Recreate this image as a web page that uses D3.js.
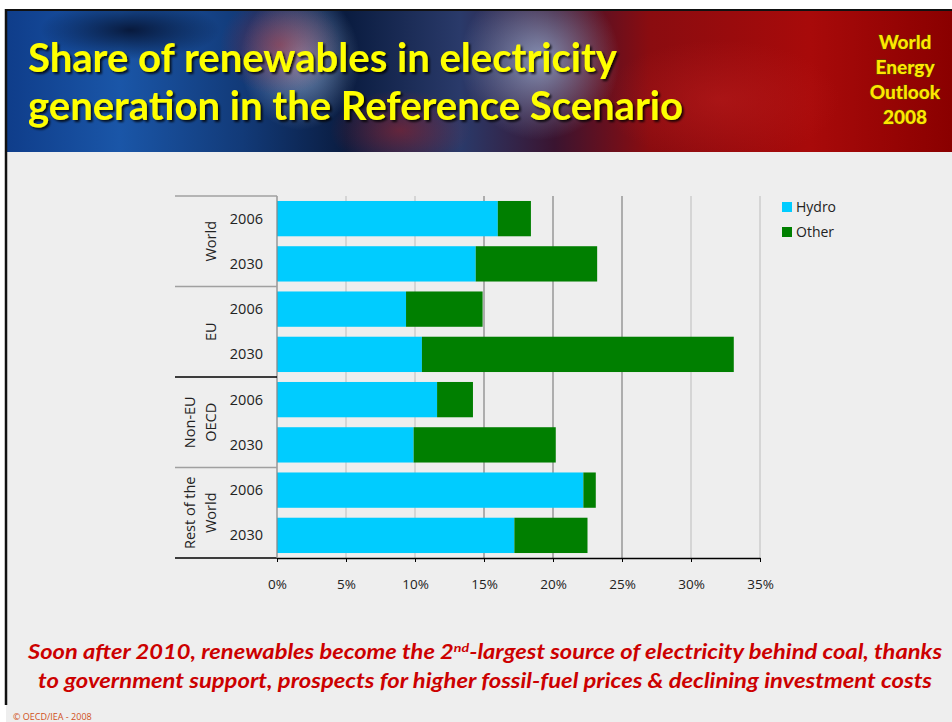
<!DOCTYPE html>
<html><head><meta charset="utf-8">
<script src="https://cdn.jsdelivr.net/npm/d3@7/dist/d3.min.js"></script>
<style>
html,body{margin:0;padding:0;background:#fff;}
svg{display:block;}
</style></head>
<body>
<script>
// ---- data ----
const regions = ["World", "EU", "Non-EU OECD", "Rest of the World"];
const regionLines = [["World"], ["EU"], ["Non-EU", "OECD"], ["Rest of the", "World"]];
const years = ["2006", "2030"];
const hydro = [16.0, 14.4, 9.35, 10.5, 11.6, 9.9, 22.2, 17.2];
const other = [2.4, 8.8, 5.55, 22.6, 2.6, 10.3, 0.9, 5.3];
const seriesNames = ["Hydro", "Other"];
const xTicks = [0, 5, 10, 15, 20, 25, 30, 35];
const titleLines = ["Share of renewables in electricity", "generation in the Reference Scenario"];
const badgeLines = ["World", "Energy", "Outlook", "2008"];

const W = 952, H = 722;
const svg = d3.select("body").append("svg").attr("width", W).attr("height", H);
const defs = svg.append("defs");

// page
svg.append("rect").attr("x", 0).attr("y", 0).attr("width", W).attr("height", H).attr("fill", "#ffffff");
svg.append("rect").attr("x", 6).attr("y", 10).attr("width", W - 6).attr("height", H - 10).attr("fill", "#eeeeee");

// header background
const g1 = defs.append("linearGradient").attr("id", "hdr").attr("x1", 0).attr("x2", 1).attr("y1", 0).attr("y2", 0);
[[0, "#0f3d8a"], [0.12, "#1a56a8"], [0.25, "#123a78"], [0.36, "#0a1c40"], [0.48, "#2a3a6a"], [0.58, "#3a1430"], [0.68, "#8a0c10"], [0.85, "#a80a0a"], [1, "#8a0000"]]
  .forEach(([o, c]) => g1.append("stop").attr("offset", o).attr("stop-color", c));
const g2 = defs.append("radialGradient").attr("id", "glow1");
g2.append("stop").attr("offset", 0).attr("stop-color", "#a8c4e8").attr("stop-opacity", 0.7);
g2.append("stop").attr("offset", 1).attr("stop-color", "#a8c4e8").attr("stop-opacity", 0);
const g3 = defs.append("radialGradient").attr("id", "glow2");
g3.append("stop").attr("offset", 0).attr("stop-color", "#c02020").attr("stop-opacity", 0.45);
g3.append("stop").attr("offset", 1).attr("stop-color", "#c02020").attr("stop-opacity", 0);
const g4 = defs.append("radialGradient").attr("id", "glow3");
g4.append("stop").attr("offset", 0).attr("stop-color", "#000010").attr("stop-opacity", 0.7);
g4.append("stop").attr("offset", 1).attr("stop-color", "#000010").attr("stop-opacity", 0);
defs.append("clipPath").attr("id", "hclip").append("rect").attr("x", 6).attr("y", 10).attr("width", W - 6).attr("height", 142);

const hg = svg.append("g").attr("clip-path", "url(#hclip)");
hg.append("rect").attr("x", 6).attr("y", 10).attr("width", W - 6).attr("height", 142).attr("fill", "url(#hdr)");
hg.append("ellipse").attr("cx", 540).attr("cy", 60).attr("rx", 80).attr("ry", 80).attr("fill", "url(#glow1)");
hg.append("ellipse").attr("cx", 300).attr("cy", 60).attr("rx", 60).attr("ry", 70).attr("fill", "url(#glow1)");
hg.append("ellipse").attr("cx", 280).attr("cy", 45).attr("rx", 60).attr("ry", 50).attr("fill", "url(#glow2)");
hg.append("ellipse").attr("cx", 400).attr("cy", 130).attr("rx", 70).attr("ry", 40).attr("fill", "url(#glow2)");
hg.append("ellipse").attr("cx", 130).attr("cy", 30).attr("rx", 90).attr("ry", 30).attr("fill", "url(#glow3)");
hg.append("ellipse").attr("cx", 720).attr("cy", 100).attr("rx", 120).attr("ry", 60).attr("fill", "url(#glow2)");

// header border
svg.append("line").attr("x1", 6).attr("x2", W).attr("y1", 10).attr("y2", 10).attr("stroke", "#111").attr("stroke-width", 2);
svg.append("line").attr("x1", 6).attr("x2", 6).attr("y1", 9).attr("y2", 705).attr("stroke", "#111").attr("stroke-width", 2.5);

// title
const shadow = defs.append("filter").attr("id", "tshadow").attr("x", "-5%").attr("y", "-20%").attr("width", "110%").attr("height", "140%");
shadow.append("feDropShadow").attr("dx", 2).attr("dy", 2).attr("stdDeviation", 1.2).attr("flood-color", "#000").attr("flood-opacity", 0.8);
const titleWidths = [589, 655];
titleLines.forEach((t, i) => {
  svg.append("text").attr("x", 28).attr("y", 72 + i * 48)
    .attr("font-family", "Lato, 'Open Sans', sans-serif").attr("font-weight", "bold")
    .attr("font-size", 40).attr("fill", "#ffff00").attr("filter", "url(#tshadow)")
    .attr("textLength", titleWidths[i]).attr("lengthAdjust", "spacingAndGlyphs")
    .text(t);
});
badgeLines.forEach((t, i) => {
  svg.append("text").attr("x", 905).attr("y", 49 + i * 25).attr("text-anchor", "middle")
    .attr("font-family", "Lato, 'Open Sans', sans-serif").attr("font-weight", 900)
    .attr("font-size", 19).attr("fill", "#ffe600")
    .attr("stroke", "#5a4a00").attr("stroke-width", 0.9).attr("paint-order", "stroke")
    .text(t);
});

// chart
const margin = {left: 277, right: 760, top: 196, bottom: 558};
const x = d3.scaleLinear().domain([0, 35]).range([margin.left, margin.right]);
const rows = [];
regions.forEach((r, i) => years.forEach((y, j) => rows.push({key: r + "|" + y, region: r, year: y, idx: i * 2 + j})));
const y = d3.scaleBand().domain(rows.map(d => d.key)).range([margin.top, margin.bottom]).paddingInner(0.22).paddingOuter(0.11);

const chart = svg.append("g");
// gridlines
const gridColors = ["#c8c8c8", "#c8c8c8", "#c8c8c8", "#8a8a8a", "#8a8a8a", "#8a8a8a", "#c8c8c8", "#c8c8c8"];
chart.append("g").selectAll("line").data(xTicks.slice(1)).join("line")
  .attr("x1", d => x(d)).attr("x2", d => x(d)).attr("y1", margin.top).attr("y2", margin.bottom)
  .attr("stroke", (d, i) => gridColors[i + 1]).attr("stroke-width", 1.3);

// stacked bars
const stackData = rows.map(r => ({key: r.key, Hydro: hydro[r.idx], Other: other[r.idx]}));
const stack = d3.stack().keys(seriesNames)(stackData);
const colors = {Hydro: "#00ccff", Other: "#007f00"};
chart.append("g").selectAll("g").data(stack).join("g").attr("fill", d => colors[d.key])
  .selectAll("rect").data(d => d).join("rect")
  .attr("x", d => x(d[0])).attr("width", d => x(d[1]) - x(d[0]))
  .attr("y", d => y(d.data.key)).attr("height", y.bandwidth());

// x axis
const xAxis = d3.axisBottom(x).tickValues(xTicks).tickFormat(d => d + "%").tickSize(4).tickSizeOuter(0);
const xa = chart.append("g").attr("transform", `translate(0,${margin.bottom})`).call(xAxis);
xa.select(".domain").attr("stroke", "#000").attr("stroke-width", 1.3);
xa.selectAll(".tick line").attr("stroke", "#000");
xa.selectAll(".tick text").attr("font-family", "'Open Sans', sans-serif").attr("font-size", 13.5).attr("fill", "#222").attr("y", 0).attr("dy", "2.3em");
// extend bottom line left under labels
chart.append("line").attr("x1", 175).attr("x2", margin.left).attr("y1", margin.bottom).attr("y2", margin.bottom).attr("stroke", "#000").attr("stroke-width", 1.3);

// y axis line
chart.append("line").attr("x1", margin.left).attr("x2", margin.left).attr("y1", margin.top).attr("y2", margin.bottom).attr("stroke", "#8a8a8a").attr("stroke-width", 1.3);

// year labels
chart.append("g").selectAll("text").data(rows).join("text")
  .attr("x", 263).attr("y", d => y(d.key) + y.bandwidth() / 2).attr("dy", "0.35em")
  .attr("text-anchor", "end").attr("font-family", "'Open Sans', sans-serif").attr("font-size", 14.5).attr("fill", "#222")
  .text(d => d.year);

// group separators
const sepY = regions.map((r, i) => i === 0 ? margin.top : (y(r + "|2006") + y(regions[i - 1] + "|2030") + y.bandwidth()) / 2);
const sepColors = ["#a0a0a0", "#a0a0a0", "#000", "#a0a0a0"];
sepY.forEach((sy, i) => {
  chart.append("line").attr("x1", 175).attr("x2", margin.left).attr("y1", sy).attr("y2", sy).attr("stroke", sepColors[i]).attr("stroke-width", 1.3);
});

// group labels (rotated)
regions.forEach((r, i) => {
  const top = sepY[i];
  const bot = i < regions.length - 1 ? sepY[i + 1] : margin.bottom;
  const cy = (top + bot) / 2;
  const lines = regionLines[i];
  const t = chart.append("text")
    .attr("transform", `translate(${211 - (lines.length - 1) * 21},${cy}) rotate(-90)`)
    .attr("text-anchor", "middle").attr("font-family", "'Open Sans', sans-serif").attr("font-size", 14.5).attr("fill", "#222");
  lines.forEach((l, k) => t.append("tspan").attr("x", 0).attr("dy", k === 0 ? "0.35em" : "1.45em").text(l));
});

// legend
seriesNames.forEach((s, i) => {
  const lg = svg.append("g").attr("transform", `translate(782,${202 + i * 25})`);
  lg.append("rect").attr("width", 10).attr("height", 10).attr("fill", colors[s]);
  lg.append("text").attr("x", 14).attr("y", 5).attr("dy", "0.35em").attr("font-family", "'Open Sans', sans-serif")
    .attr("font-size", 14).attr("fill", "#222").text(s);
});

// footer statement
const foot = svg.append("g").attr("font-family", "Lato, 'Open Sans', sans-serif").attr("font-weight", "bold")
  .attr("font-style", "italic").attr("fill", "#cc0000").attr("font-size", 20).attr("text-anchor", "middle");
const f1 = foot.append("text").attr("x", 485).attr("y", 659).attr("textLength", 914).attr("lengthAdjust", "spacingAndGlyphs");
f1.append("tspan").text("Soon after 2010, renewables become the 2");
f1.append("tspan").attr("dy", -7).attr("font-size", 12).text("nd");
f1.append("tspan").attr("dy", 7).text("-largest source of electricity behind coal, thanks");
foot.append("text").attr("x", 485).attr("y", 688).attr("textLength", 894).attr("lengthAdjust", "spacingAndGlyphs")
  .text("to government support, prospects for higher fossil-fuel prices & declining investment costs");

svg.append("text").attr("x", 13).attr("y", 720).attr("font-family", "'Open Sans', sans-serif").attr("font-size", 9)
  .attr("fill", "#d0501a").text("© OECD/IEA - 2008");
</script>
</body></html>
